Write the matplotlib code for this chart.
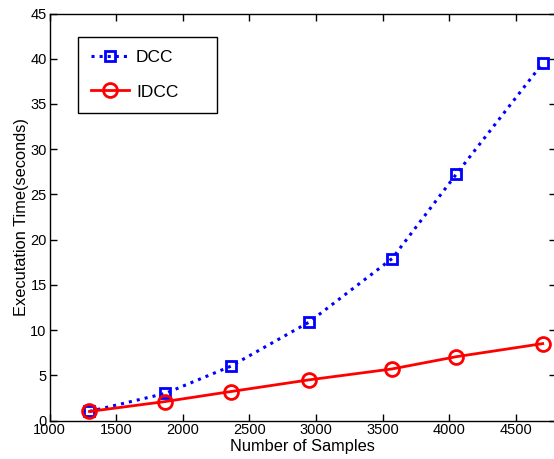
import matplotlib
matplotlib.use("Agg")
import matplotlib.pyplot as plt

# Data
samples = [1300, 1870, 2360, 2950, 3570, 4050, 4700]
dcc_time = [1.0, 3.0, 6.0, 10.9, 17.9, 27.2, 39.5]
idcc_time = [1.0, 2.1, 3.2, 4.5, 5.7, 7.05, 8.5]

x_ticks = [1000, 1500, 2000, 2500, 3000, 3500, 4000, 4500]
y_ticks = [0, 5, 10, 15, 20, 25, 30, 35, 40, 45]

plt.rcParams['font.family'] = ['Liberation Sans', 'DejaVu Sans']

fig = plt.figure(figsize=(5.54, 4.59), dpi=100)
# axes box runs a little past the right edge of the picture, like the reference
ax = fig.add_axes([49.5 / 554, 38.5 / 459, 506.5 / 554, 407 / 459])

ax.plot(samples, dcc_time, color="blue", linestyle=":", linewidth=2.2,
        marker="s", markersize=7.5, markerfacecolor="none",
        markeredgecolor="blue", markeredgewidth=2, label="DCC")
ax.plot(samples, idcc_time, color="red", linestyle="-", linewidth=2,
        marker="o", markersize=10, markerfacecolor="none",
        markeredgecolor="red", markeredgewidth=2, label="IDCC")

ax.set_xlim(1000, 4800)
ax.set_ylim(0, 45)
ax.set_xticks(x_ticks)
ax.set_yticks(y_ticks)
ax.tick_params(direction="in", top=True, right=True, length=5, width=1,
               labelsize=10.5, pad=2)
for sp in ax.spines.values():
    sp.set_linewidth(1)

ax.set_xlabel("Number of Samples", fontsize=11.8, labelpad=1)
ax.set_ylabel("Executation Time(seconds)", fontsize=11.8, labelpad=1)

# legend box stretched wider than its content, as in the reference
leg = ax.legend(loc="upper left", bbox_to_anchor=(0.056, 0.758, 0.274, 0.184),
                mode="expand", borderaxespad=0, fancybox=False,
                edgecolor="black", fontsize=12.5, handlelength=2.2,
                borderpad=0.75, labelspacing=1.1, handletextpad=0.4,
                framealpha=1)
leg.get_frame().set_linewidth(1)

fig.savefig("out.png", dpi=100)
